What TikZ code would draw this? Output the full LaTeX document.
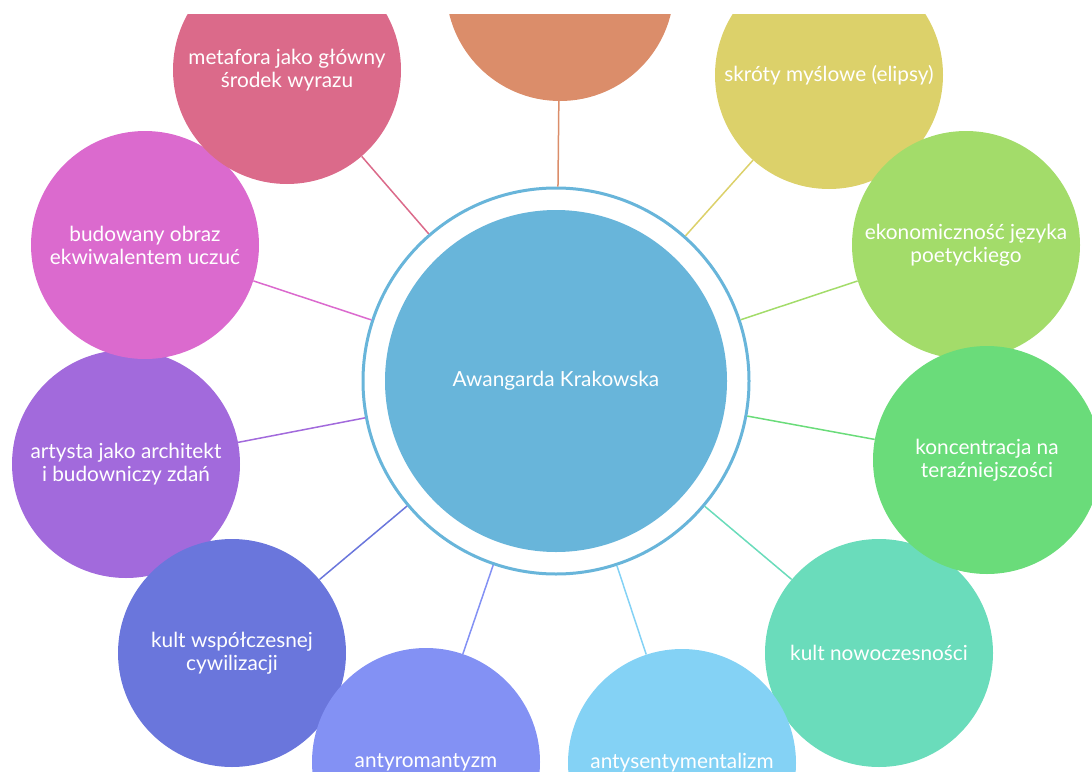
\documentclass[tikz,border=0pt]{standalone}
\usepackage{fontspec}
\setmainfont{Lato}
\definecolor{cBlue}{HTML}{68B5DA}
\definecolor{cOrange}{HTML}{DB8D6A}
\definecolor{cYellow}{HTML}{DCD16A}
\definecolor{cLGreen}{HTML}{A3DC6A}
\definecolor{cGreen}{HTML}{6ADC7A}
\definecolor{cTeal}{HTML}{6ADCBB}
\definecolor{cSky}{HTML}{84D2F5}
\definecolor{cPeri}{HTML}{8391F4}
\definecolor{cIndigo}{HTML}{6A76DC}
\definecolor{cPurple}{HTML}{A26ADC}
\definecolor{cMagenta}{HTML}{DB6ACE}
\definecolor{cPink}{HTML}{DB6A8A}
\tikzset{
  sat/.style={circle, minimum size=228pt, inner sep=0pt, fill=#1, text=white,
    align=center, font=\fontsize{20.8}{23}\selectfont},
  ring/.style={circle, minimum size=386pt, inner sep=0pt, fill=white, draw=cBlue, line width=3pt},
  core/.style={circle, minimum size=342pt, inner sep=0pt, fill=cBlue, text=white,
    font=\fontsize{20.8}{23}\selectfont},
  link/.style={draw=#1, line width=1.5pt}
}
\begin{document}
\begin{tikzpicture}[x=1pt,y=-1pt]
\useasboundingbox (0,0) rectangle (1092,771);
\begin{scope}
\clip (0,14) rectangle (1092,771);
\node[ring] (ring) at (556,381) {};
\node[core] (core) at (556,381) {Awangarda Krakowska};
\node[sat=cOrange] (s0) at (560,-13) {};
\node[sat=cYellow] (s1) at (829,75) {skróty myślowe (elipsy)};
\node[sat=cLGreen] (s2) at (966,245) {ekonomiczność języka\\poetyckiego};
\node[sat=cTeal] (s4) at (879,653) {kult nowoczesności};
\node[sat=cGreen] (s3) at (987,460) {koncentracja na\\teraźniejszości};
\node[sat=cSky] (s5) at (682,763) {antysentymentalizm};
\node[sat=cPurple] (s8) at (126,464) {artysta jako architekt\\i budowniczy zdań};
\node[sat=cIndigo] (s7) at (232,653) {kult współczesnej\\cywilizacji};
\node[sat=cPeri] (s6) at (426,762) {antyromantyzm};
\node[sat=cMagenta] (s9) at (145,245) {budowany obraz\\ekwiwalentem uczuć};
\node[sat=cPink] (s10) at (287,70) {metafora jako główny\\środek wyrazu};
\draw[link=cOrange] (ring) -- (s0);
\draw[link=cYellow] (ring) -- (s1);
\draw[link=cLGreen] (ring) -- (s2);
\draw[link=cGreen] (ring) -- (s3);
\draw[link=cTeal] (ring) -- (s4);
\draw[link=cSky] (ring) -- (s5);
\draw[link=cPeri] (ring) -- (s6);
\draw[link=cIndigo] (ring) -- (s7);
\draw[link=cPurple] (ring) -- (s8);
\draw[link=cMagenta] (ring) -- (s9);
\draw[link=cPink] (ring) -- (s10);
\end{scope}
\end{tikzpicture}
\end{document}
